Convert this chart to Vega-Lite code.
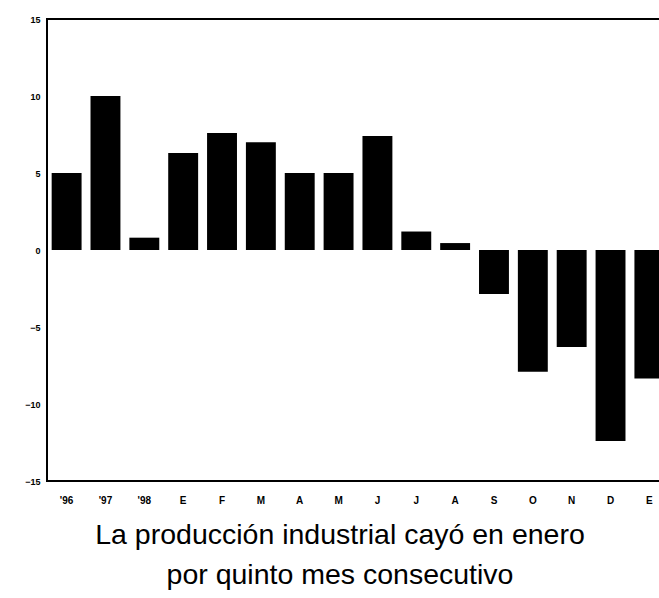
{
  "$schema": "https://vega.github.io/schema/vega-lite/v6.json",
  "autosize": {"type": "none"},
  "padding": {"left": 47, "top": 19, "right": 0, "bottom": 117},
  "width": 622,
  "height": 462,
  "background": "white",
  "data": {
    "values": [
      {"periodo": "'96", "orden": 1, "variacion": 5.0},
      {"periodo": "'97", "orden": 2, "variacion": 10.0},
      {"periodo": "'98", "orden": 3, "variacion": 0.8},
      {"periodo": "E", "orden": 4, "variacion": 6.3},
      {"periodo": "F", "orden": 5, "variacion": 7.6},
      {"periodo": "M", "orden": 6, "variacion": 7.0},
      {"periodo": "A", "orden": 7, "variacion": 5.0},
      {"periodo": "M ", "orden": 8, "variacion": 5.0},
      {"periodo": "J", "orden": 9, "variacion": 7.4},
      {"periodo": "J ", "orden": 10, "variacion": 1.2},
      {"periodo": "A ", "orden": 11, "variacion": 0.45},
      {"periodo": "S", "orden": 12, "variacion": -2.85},
      {"periodo": "O", "orden": 13, "variacion": -7.9},
      {"periodo": "N", "orden": 14, "variacion": -6.3},
      {"periodo": "D", "orden": 15, "variacion": -12.4},
      {"periodo": "E ", "orden": 16, "variacion": -8.35}
    ]
  },
  "title": {
    "text": ["La producción industrial cayó en enero", "por quinto mes consecutivo"],
    "orient": "bottom",
    "anchor": "middle",
    "dx": -18,
    "offset": 16,
    "font": "Liberation Sans",
    "fontSize": 28.5,
    "fontWeight": "normal",
    "lineHeight": 40,
    "color": "black"
  },
  "mark": {"type": "bar", "color": "black"},
  "encoding": {
    "x": {
      "field": "periodo",
      "type": "nominal",
      "sort": {"field": "orden"},
      "scale": {"paddingInner": 0.23, "paddingOuter": 0.12},
      "axis": {
        "title": null,
        "labelAngle": 0,
        "ticks": false,
        "domain": false,
        "labelPadding": 14,
        "labelFont": "Liberation Sans",
        "labelFontSize": 10,
        "labelFontWeight": "bold",
        "labelColor": "black"
      }
    },
    "y": {
      "field": "variacion",
      "type": "quantitative",
      "scale": {"domain": [-15, 15], "nice": false},
      "axis": {
        "title": null,
        "values": [-15, -10, -5, 0, 5, 10, 15],
        "grid": false,
        "ticks": false,
        "domain": false,
        "labelPadding": 7,
        "labelFont": "Liberation Sans",
        "labelFontSize": 9,
        "labelFontWeight": "bold",
        "labelColor": "black"
      }
    }
  },
  "config": {
    "view": {"stroke": "black", "strokeWidth": 2}
  }
}
